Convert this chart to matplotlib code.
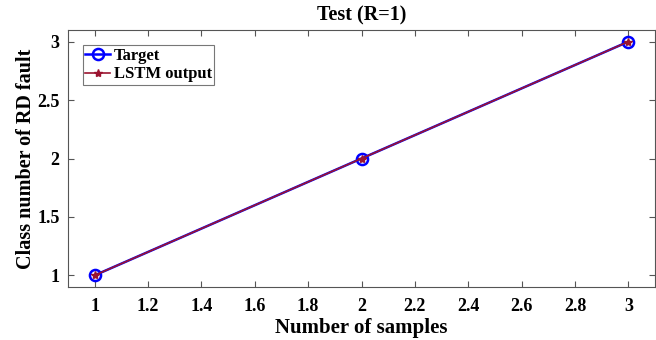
import matplotlib
matplotlib.use("Agg")
import matplotlib.pyplot as plt

samples = [1, 2, 3]
target = [1, 2, 3]
lstm_output = [1, 2, 3]
xticks = [1, 1.2, 1.4, 1.6, 1.8, 2, 2.2, 2.4, 2.6, 2.8, 3]
yticks = [1, 1.5, 2, 2.5, 3]

plt.rcParams['font.family'] = ['Liberation Serif', 'DejaVu Serif']
plt.rcParams['font.weight'] = 'bold'

fig = plt.figure(figsize=(6.56, 3.4), dpi=100)
ax = fig.add_axes([68/656, 1 - 287/340, (655-68)/656, (287-30)/340])

ax.plot(samples, target, color='#0000ff', lw=1.8, marker='o', ms=8, mfc='none', mew=1.8, label='Target')
ax.plot(samples, lstm_output, color='#9b1430', lw=1.2, marker='*', ms=6, label='LSTM output')

ax.set_xlim(0.9, 3.1)
ax.set_ylim(0.9, 3.1)
ax.set_xticks(xticks)
ax.set_xticklabels([f"{v:g}" for v in xticks])
ax.set_yticks(yticks)
ax.set_yticklabels([f"{v:g}" for v in yticks])
ax.tick_params(direction='in', top=True, right=True, labelsize=13, length=4, color='#555555')
ax.tick_params(axis='x', pad=8)
ax.tick_params(axis='y', pad=6)
for lab in ax.get_xticklabels() + ax.get_yticklabels():
    lab.set_fontweight('bold')
for s in ax.spines.values():
    s.set_color('#555555')
    s.set_linewidth(0.8)

ax.set_title('Test (R=1)', fontsize=14.5, fontweight='bold', pad=7)
ax.set_xlabel('Number of samples', fontsize=15, fontweight='bold', labelpad=2)
ax.set_ylabel('Class number of RD fault', fontsize=14.5, fontweight='bold', labelpad=1)

leg = ax.legend(loc='upper left', bbox_to_anchor=(0.025, 0.94), fontsize=12, frameon=True,
                fancybox=False, edgecolor='#555555', handlelength=1.5, handletextpad=0.2,
                borderpad=0.15, labelspacing=0.15, borderaxespad=0.0)
leg.get_frame().set_linewidth(0.8)
for t in leg.get_texts():
    t.set_fontweight('bold')

fig.savefig('out.png', dpi=100)
